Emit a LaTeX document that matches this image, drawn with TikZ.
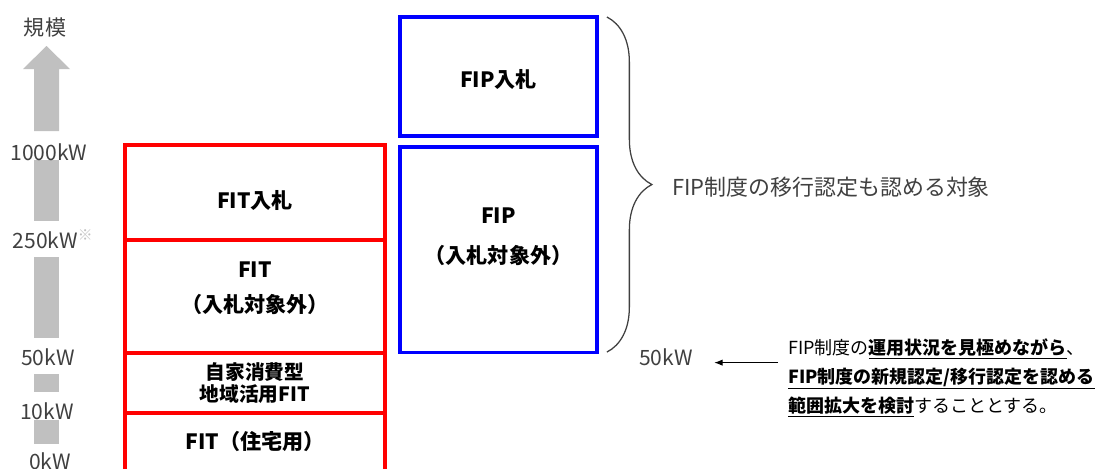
\documentclass[tikz,border=0pt]{standalone}
\usepackage{fontspec}
\setmainfont{Noto Sans CJK JP}
\usetikzlibrary{positioning, arrows.meta, decorations.pathreplacing}
\definecolor{axisgray}{HTML}{C0C0C0}
\definecolor{textgray}{HTML}{404040}
\definecolor{fitred}{HTML}{FF0000}
\definecolor{fipblue}{HTML}{0000FF}

\begin{document}
\begin{tikzpicture}[
    x=0.025cm, y=-0.025cm,
    fitbox/.style={rectangle, draw=fitred, line width=2.5pt, inner sep=0pt, outer sep=0pt, minimum width=6.5cm},
    fipbox/.style={rectangle, draw=fipblue, line width=2.2pt, inner sep=0pt, outer sep=0pt, minimum width=4.925cm},
    boxtext/.style={align=center, inner sep=0pt, font=\fontsize{15}{25}\selectfont\bfseries},
    scalelabel/.style={inner sep=0pt, text=textgray, font=\fontsize{15}{17}\selectfont},
    notetext/.style={inner sep=0pt, align=left, anchor=north west, font=\fontsize{12.8}{20.6}\selectfont},
    shaft/.style={fill=axisgray, draw=none},
    bracestyle/.style={draw=textgray, line width=0.9pt, decorate, decoration={brace, amplitude=32pt}},
    notearrow/.style={-{Latex[length=6pt, width=4.5pt]}, line width=0.7pt}
]
    \clip (0,0) rectangle (1099,468);

    % Scale axis
    \node (axistitle) [scalelabel] at (45,27) {規模};
    \fill [shaft] (23,69) -- (46.5,46) -- (70,69) -- (59,69) -- (59,131) -- (34,131) -- (34,69) -- cycle;
    \foreach \ytop/\ybot in {160/221, 257/338, 374/392, 420/444}
        \fill [shaft] (34,\ytop) rectangle (59,\ybot);
    \node (lbl1000) [scalelabel] at (49,152) {1000kW};
    \node (lbl250) [scalelabel] at (53,239) {250kW\textsuperscript{\color{axisgray}※}};
    \node (lbl50) [scalelabel] at (48,357) {50kW};
    \node (lbl10) [scalelabel] at (47,411) {10kW};
    \node (lbl0) [scalelabel] at (50,461) {0kW};

    % FIT stack
    \node (fitbid) [fitbox, minimum height=2.375cm, label={[boxtext, yshift=-6pt]center:FIT入札}] at (255,192.5) {};
    \node (fitout) [fitbox, minimum height=2.825cm, below=0pt of fitbid, label={[boxtext, yshift=6pt]center:FIT\\（入札対象外）}] {};
    \node (fitlocal) [fitbox, minimum height=1.5cm, below=0pt of fitout, label={[boxtext, font=\fontsize{14}{15}\selectfont\bfseries]center:自家消費型\\地域活用FIT}] {};
    \node (fithome) [fitbox, minimum height=1.55cm, below=0pt of fitlocal, label={[boxtext, yshift=2pt]center:FIT（住宅用）}] {};

    % FIP stack
    \node (fipbid) [fipbox, minimum height=2.975cm, label={[boxtext, yshift=-2pt]center:FIP入札}] at (498.5,76.5) {};
    \node (fipout) [fipbox, minimum height=5.125cm, below=0.275cm of fipbid, label={[boxtext, font=\fontsize{15}{28.5}\selectfont\bfseries, yshift=9pt]center:FIP\\（入札対象外）}] {};

    % Brace and transition note
    \draw [bracestyle] ([xshift=7pt]fipbid.north east) -- ([xshift=7pt]fipout.south east);
    \node (transnote) [inner sep=0pt, anchor=west, text=textgray, font=\fontsize{15.6}{18}\selectfont] at (672,187) {FIP制度の移行認定も認める対象};

    % 50kW threshold note
    \node (lbl50r) [scalelabel] at (666,357) {50kW};
    \node (reviewnote) [notetext] at (788,338) {FIP制度の\underline{\textbf{運用状況を見極めながら}}、\\
        \underline{\textbf{FIP制度の新規認定/移行認定を認める}}\\
        \underline{\textbf{範囲拡大を検討}}することとする。};
    \coordinate (arrowstart) at ([xshift=-7pt, yshift=-4pt]reviewnote.west |- lbl50r.center);
    \draw [notearrow, shorten >=15pt] (arrowstart) -- (arrowstart -| lbl50r.east);
\end{tikzpicture}
\end{document}
